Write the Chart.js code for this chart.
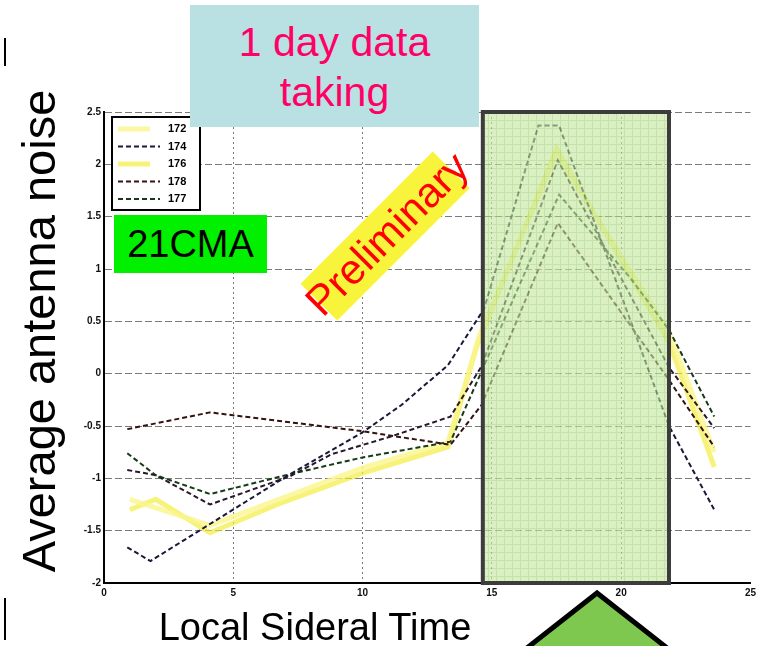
<!DOCTYPE html>
<html>
<head>
<meta charset="utf-8">
<script src="https://cdn.jsdelivr.net/npm/chart.js@4"></script>
<style>
  html, body { margin: 0; padding: 0; background: #fff; }
  #wrap { position: relative; width: 760px; height: 646px; overflow: hidden; font-family: "Liberation Sans", Arial, sans-serif; }
  #wrap canvas { position: absolute; left: 0; top: 0; }
  .abs { position: absolute; white-space: nowrap; line-height: 1; }
  .bar { position: absolute; width: 2px; background: #000; }
  #dayBox { left: 190px; top: 5px; width: 289px; height: 122px; background: #b9e0e3; color: #ff0066; font-size: 41px; text-align: center; }
  #dayBox div { line-height: 50px; }
  #cma { left: 114px; top: 215px; width: 153px; height: 58px; background: #00f000; color: #000; font-size: 38px; text-align: center; line-height: 58px; }
  #yTitle { left: 38px; top: 331px; font-size: 47px; transform: translate(-50%, -50%) rotate(-90deg); }
  #xTitle { left: 315px; top: 608px; font-size: 38px; transform: translateX(-50%); }
  #prelimBand { left: 385px; top: 236px; width: 187px; height: 52px; background: #f8f43c; transform: translate(-50%, -50%) rotate(-45deg); }
  #prelim { left: 387px; top: 234px; font-size: 42px; color: #ff0000; transform: translate(-50%, -50%) rotate(-45deg); }
</style>
</head>
<body>
<div id="wrap">
  <canvas id="noiseChart"></canvas>
  <div class="bar" style="left:4px; top:38px; height:28px;"></div>
  <div class="bar" style="left:4px; top:598px; height:42px;"></div>
  <div class="abs" id="yTitle">Average antenna noise</div>
  <div class="abs" id="xTitle">Local Sideral Time</div>
  <div class="abs" id="dayBox"><div style="margin-top:12px">1 day data</div><div>taking</div></div>
  <div class="abs" id="cma">21CMA</div>
  <div class="abs" id="prelimBand"></div>
  <div class="abs" id="prelim">Preliminary</div>
  <svg class="abs" style="left:0; top:0;" width="760" height="646">
    <polygon points="597,593 518,655 676,655" fill="#7ec850" stroke="#000" stroke-width="5" stroke-linejoin="miter"/>
  </svg>
</div>

<script>
// ---- axes ----
const xTicks = [0, 5, 10, 15, 20, 25];
const yTicks = [-2, -1.5, -1, -0.5, 0, 0.5, 1, 1.5, 2, 2.5];

// 1 day data taking window (LST hours)
const bandFrom = 14.65;
const bandTo = 21.85;

// ---- antenna series: LST (h) / average noise ----
const lst172   = [1, 4.1, 10, 13.3, 14.5, 17.5, 21.85, 23.6];
const noise172 = [-1.2, -1.45, -0.9, -0.66, 0.35, 2.1, 0.4, -0.75];

const lst174   = [0.9, 1.8, 7, 10, 11.5, 13.3, 14.7, 16.8, 17.6, 21.85, 23.6];
const noise174 = [-1.66, -1.79, -0.99, -0.56, -0.3, 0.08, 0.62, 2.37, 2.37, -0.5, -1.3];

const lst176   = [1, 2, 4.1, 6.7, 10, 13.3, 14.4, 17.5, 21.85, 23.6];
const noise176 = [-1.3, -1.2, -1.52, -1.25, -0.95, -0.7, 0.25, 2.15, 0.3, -0.89];

const lst178   = [0.9, 4.1, 10, 13.4, 14.6, 17.55, 21.85, 23.6];
const noise178 = [-0.53, -0.37, -0.55, -0.68, -0.3, 1.44, -0.06, -0.7];

const lst177   = [0.9, 2.0, 4.1, 7.2, 10, 13.4, 14.6, 17.6, 20.4, 21.85, 23.6];
const noise177 = [-0.76, -0.97, -1.15, -0.96, -0.8, -0.65, 0.02, 1.71, 0.9, 0.42, -0.41];

// one more trace that is not in the legend
const lstOther   = [0.9, 2.0, 4.1, 7.2, 8.8, 11.1, 13.4, 14.6, 17.55, 21.85, 23.6];
const noiseOther = [-0.92, -0.97, -1.25, -0.98, -0.77, -0.6, -0.41, 0.07, 2.04, 0.06, -0.52];

const legendLabels = ["172", "174", "176", "178", "177"];

const pts = (xs, ys) => xs.map((x, i) => ({ x, y: ys[i] }));

function yellowLine(label, xs, ys, color) {
  return { label, data: pts(xs, ys), borderColor: color, borderWidth: 5, pointRadius: 0, tension: 0, order: 2 };
}
function dashLine(label, xs, ys, color) {
  return { label, data: pts(xs, ys), borderColor: color, borderWidth: 2, borderDash: [5, 3], pointRadius: 0, tension: 0, order: 1 };
}

const datasets = [
  yellowLine("172", lst172, noise172, "rgba(250,245,140,0.8)"),
  dashLine("174", lst174, noise174, "#18183a"),
  yellowLine("176", lst176, noise176, "rgba(242,236,50,0.65)"),
  dashLine("178", lst178, noise178, "#331212"),
  dashLine("177", lst177, noise177, "#173a17"),
  dashLine("", lstOther, noiseOther, "#2a182a")
];

// green hatched window drawn over the traces
function bandPattern(ctx) {
  const c = document.createElement("canvas");
  c.width = 8; c.height = 8;
  const g = c.getContext("2d");
  g.fillStyle = "#c6e8a2";
  g.fillRect(0, 0, 8, 8);
  g.fillStyle = "#a2d47a";
  g.fillRect(0, 0, 8, 1);
  g.fillRect(0, 0, 1, 8);
  return ctx.createPattern(c, "repeat");
}

const bandPlugin = {
  id: "band",
  afterDatasetsDraw(chart) {
    const { ctx, chartArea, scales: { x } } = chart;
    const x1 = x.getPixelForValue(bandFrom);
    const x2 = x.getPixelForValue(bandTo);
    ctx.save();
    ctx.globalAlpha = 0.64;
    ctx.fillStyle = bandPattern(ctx);
    ctx.fillRect(x1, chartArea.top, x2 - x1, chartArea.bottom - chartArea.top);
    ctx.globalAlpha = 1;
    ctx.strokeStyle = "#3c3c3c";
    ctx.lineWidth = 4;
    ctx.strokeRect(x1, chartArea.top, x2 - x1, chartArea.bottom - chartArea.top);
    ctx.restore();
  }
};

// boxed legend in the upper left corner of the plot
const boxLegend = {
  id: "boxLegend",
  afterDraw(chart) {
    const { ctx } = chart;
    const left = 112, top = 117, w = 88, h = 93;
    ctx.save();
    ctx.fillStyle = "#fff";
    ctx.fillRect(left, top, w, h);
    ctx.strokeStyle = "#000";
    ctx.lineWidth = 2;
    ctx.strokeRect(left, top, w, h);
    ctx.font = "bold 11px 'Liberation Sans'";
    ctx.textBaseline = "middle";
    legendLabels.forEach((lab, i) => {
      const ds = chart.data.datasets.find(d => d.label === lab);
      const y = top + 12 + i * 17.5;
      ctx.strokeStyle = ds.borderColor;
      ctx.lineWidth = ds.borderWidth;
      ctx.setLineDash(ds.borderDash || []);
      ctx.beginPath();
      ctx.moveTo(left + 6, y);
      ctx.lineTo(left + (ds.borderDash ? 48 : 38), y);
      ctx.stroke();
      ctx.setLineDash([]);
      ctx.fillStyle = "#000";
      ctx.fillText(lab, left + 56, y);
    });
    ctx.restore();
  }
};

new Chart(document.getElementById("noiseChart"), {
  type: "line",
  data: { datasets },
  options: {
    responsive: true,
    maintainAspectRatio: false,
    animation: false,
    layout: { padding: { left: 70, right: 7, top: 112, bottom: 33 } },
    plugins: { legend: { display: false }, tooltip: { enabled: false } },
    scales: {
      x: {
        type: "linear", min: 0, max: 25,
        afterBuildTicks(s) { s.ticks = xTicks.map(v => ({ value: v })); },
        afterFit(s) { s.height = 30; },
        ticks: { color: "#111", font: { family: "Liberation Sans", size: 10, weight: "bold" }, padding: 4, maxRotation: 0, callback: v => String(v) },
        grid: { color: c => (c.tick && c.tick.value === 25 ? "rgba(0,0,0,0)" : "#7a7a7a"), lineWidth: 1, drawTicks: false },
        border: { color: "#000", width: 2, dash: [2, 3] }
      },
      y: {
        type: "linear", min: -2, max: 2.5,
        afterBuildTicks(s) { s.ticks = yTicks.map(v => ({ value: v })); },
        afterFit(s) { s.width = 34; },
        ticks: { color: "#111", font: { family: "Liberation Sans", size: 10, weight: "bold" }, padding: 3, callback: v => String(v) },
        grid: { color: "#7a7a7a", lineWidth: 1, drawTicks: false },
        border: { color: "#000", width: 2, dash: [7, 3] }
      }
    }
  },
  plugins: [bandPlugin, boxLegend]
});
</script>
</body>
</html>
